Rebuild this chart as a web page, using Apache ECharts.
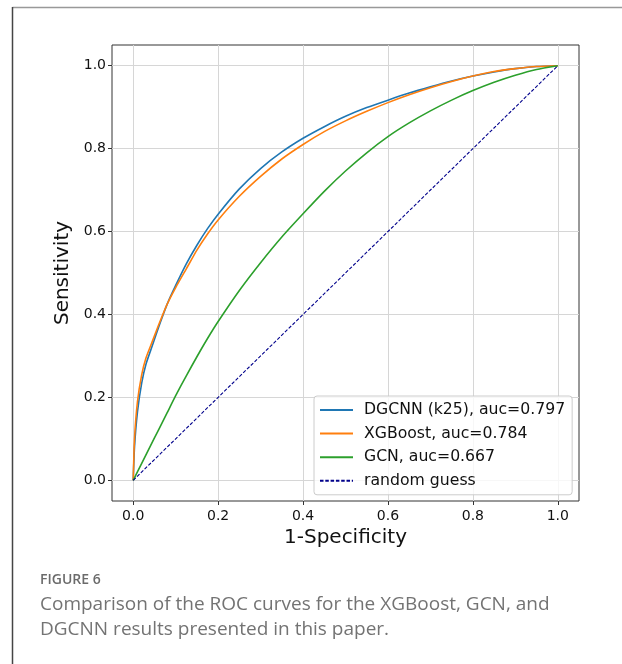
<!DOCTYPE html>
<html>
<head>
<meta charset="utf-8">
<script src="https://cdn.jsdelivr.net/npm/echarts@6/dist/echarts.min.js"></script>
<style>
html,body{margin:0;padding:0;background:#fff;}
#chart{width:622px;height:664px;}
</style>
</head>
<body>
<div id="chart"></div>
<script>
// ---- data ----
const tickValues = [0, 0.2, 0.4, 0.6, 0.8, 1.0];
const seriesNames = ['DGCNN (k25), auc=0.797', 'XGBoost, auc=0.784', 'GCN, auc=0.667', 'random guess'];

const dgcnnFpr = [0, 0.003, 0.01, 0.02, 0.03, 0.045, 0.06, 0.08, 0.1, 0.125, 0.15, 0.175, 0.2, 0.25, 0.3, 0.35, 0.4, 0.45, 0.5, 0.55, 0.6, 0.65, 0.7, 0.75, 0.8, 0.85, 0.9, 0.95, 1];
const dgcnnTpr = [0, 0.08, 0.165, 0.235, 0.28, 0.325, 0.37, 0.425, 0.47, 0.522, 0.567, 0.607, 0.642, 0.703, 0.752, 0.792, 0.825, 0.853, 0.878, 0.899, 0.917, 0.934, 0.949, 0.963, 0.975, 0.985, 0.993, 0.998, 1];

const xgbFpr = [0, 0.003, 0.01, 0.02, 0.03, 0.045, 0.06, 0.08, 0.1, 0.125, 0.15, 0.175, 0.2, 0.25, 0.3, 0.35, 0.4, 0.45, 0.5, 0.55, 0.6, 0.65, 0.7, 0.75, 0.8, 0.85, 0.9, 0.95, 1];
const xgbTpr = [0, 0.1, 0.19, 0.255, 0.295, 0.335, 0.375, 0.425, 0.465, 0.51, 0.555, 0.594, 0.628, 0.685, 0.733, 0.775, 0.81, 0.841, 0.867, 0.89, 0.911, 0.93, 0.947, 0.962, 0.975, 0.986, 0.993, 0.998, 1];

const gcnFpr = [0, 0.02, 0.04, 0.06, 0.08, 0.1, 0.125, 0.15, 0.175, 0.2, 0.25, 0.3, 0.35, 0.4, 0.45, 0.5, 0.55, 0.6, 0.65, 0.7, 0.75, 0.8, 0.85, 0.9, 0.95, 1];
const gcnTpr = [0, 0.041, 0.082, 0.122, 0.163, 0.204, 0.252, 0.298, 0.342, 0.383, 0.458, 0.525, 0.587, 0.643, 0.697, 0.746, 0.79, 0.829, 0.862, 0.891, 0.917, 0.94, 0.96, 0.977, 0.991, 1];

const randFpr = [0, 1];
const randTpr = [0, 1];

const captionTitle = 'FIGURE 6';
const captionLines = ['Comparison of the ROC curves for the XGBoost, GCN, and', 'DGCNN results presented in this paper.'];

// ---- build ----
function pairs(xs, ys) { return xs.map((x, i) => [x, ys[i]]); }
const colors = ['#1f77b4', '#ff7f0e', '#2ca02c', '#00008b'];
const mplFont = 'DejaVu Sans';

function axisCommon(name) {
  return {
    type: 'value',
    min: -0.05,
    max: 1.05,
    name: name,
    nameLocation: 'middle',
    nameTextStyle: { fontFamily: mplFont, fontSize: 20, color: '#111' },
    axisLine: { show: false, onZero: false },
    axisTick: { show: true, inside: false, length: 4, customValues: tickValues, lineStyle: { color: '#333', width: 1 } },
    axisLabel: { customValues: tickValues, fontFamily: mplFont, fontSize: 14, color: '#111', formatter: v => v.toFixed(1) },
    splitLine: { show: true, lineStyle: { color: '#d6d6d6', width: 1 } }
  };
}

const xAxis = axisCommon('1-Specificity');
xAxis.nameGap = 26;
xAxis.axisLabel.margin = 8;
const yAxis = axisCommon('Sensitivity');
yAxis.nameGap = 35;
yAxis.axisLabel.margin = 6;

function curve(i, xs, ys) {
  return {
    name: seriesNames[i], type: 'line', data: pairs(xs, ys), symbol: 'none',
    smooth: 0.2,
    lineStyle: { color: colors[i], width: 1.6 }, itemStyle: { color: colors[i] }, z: 3 + i
  };
}

const chart = echarts.init(document.getElementById('chart'), null, { renderer: 'canvas' });
chart.setOption({
  animation: false,
  backgroundColor: '#fff',
  grid: { left: 112, top: 45, width: 467, height: 456, show: true, borderColor: '#333', borderWidth: 1, backgroundColor: 'transparent' },
  xAxis: xAxis,
  yAxis: yAxis,
  legend: {
    orient: 'vertical',
    left: 314,
    top: 396,
    padding: [6, 7, 6, 5],
    itemWidth: 33,
    itemHeight: 14,
    itemGap: 7.6,
    backgroundColor: 'rgba(255,255,255,0.8)',
    borderColor: '#cccccc',
    borderWidth: 1,
    borderRadius: 3,
    itemStyle: { opacity: 0 },
    textStyle: { fontFamily: mplFont, fontSize: 15.7, color: '#111', padding: [0, 0, 0, 6] },
    data: seriesNames
  },
  series: [
    curve(0, dgcnnFpr, dgcnnTpr),
    curve(1, xgbFpr, xgbTpr),
    curve(2, gcnFpr, gcnTpr),
    { name: seriesNames[3], type: 'line', data: pairs(randFpr, randTpr), symbol: 'none', lineStyle: { color: colors[3], width: 1.1, type: [3.5, 1.8] }, itemStyle: { color: colors[3] }, z: 6 }
  ],
  graphic: [
    { type: 'line', shape: { x1: 12.5, y1: 7.5, x2: 622, y2: 7.5 }, style: { stroke: '#999', lineWidth: 1.5 }, silent: true },
    { type: 'line', shape: { x1: 12.5, y1: 7, x2: 12.5, y2: 664 }, style: { stroke: '#444', lineWidth: 1.5 }, silent: true },
    { type: 'text', left: 40, top: 573, style: { text: captionTitle, fontFamily: 'Open Sans', fontSize: 14, fontWeight: 600, fill: '#6b6b6b' } },
    { type: 'text', left: 40, top: 595, style: { text: captionLines[0], fontFamily: 'Open Sans', fontSize: 19, fill: '#737373' } },
    { type: 'text', left: 40, top: 620, style: { text: captionLines[1], fontFamily: 'Open Sans', fontSize: 19, fill: '#737373' } }
  ]
});
</script>
</body>
</html>
